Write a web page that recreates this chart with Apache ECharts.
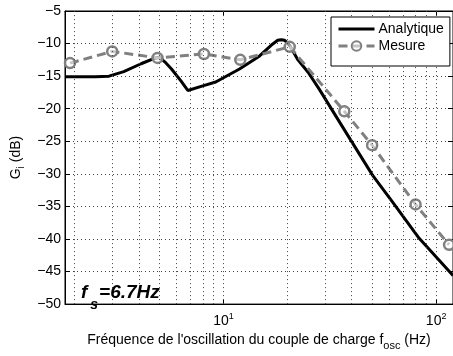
<!DOCTYPE html>
<html>
<head>
<meta charset="utf-8">
<script src="https://cdn.jsdelivr.net/npm/echarts@6/dist/echarts.min.js"></script>
<style>
  html, body { margin: 0; padding: 0; background: #fff; }
  #chart { width: 453px; height: 356px; }
</style>
</head>
<body>
<div id="chart"></div>
<script>
// Analytical gain curve (frequency in Hz, gain in dB)
const anaFreq = [1.8, 2.5, 2.9, 3.4, 4.1, 4.7, 5.0, 5.3, 5.7, 6.3, 6.8, 8.0, 9.2, 11.9, 14.8, 17.0, 18.0, 18.7, 19.4, 20.0, 20.6, 22.3, 25.0, 28.2, 37.6, 50.2, 62.3, 83.2, 120];
const anaGain = [-15.1, -15.1, -15.0, -14.3, -13.1, -12.3, -12.1, -12.8, -13.9, -15.7, -17.2, -16.5, -15.9, -13.9, -11.9, -10.1, -9.5, -9.4, -9.5, -9.9, -10.4, -12.4, -14.4, -17.0, -23.6, -30.2, -34.3, -39.9, -45.6];

// Measured gain points
const measFreq = [1.9, 3.0, 4.9, 8.1, 12, 20.5, 37, 50, 80, 115];
const measGain = [-13.0, -11.2, -12.2, -11.6, -12.5, -10.5, -20.4, -25.6, -34.7, -40.9];

// Axis ranges and grid positions
const xMin = 1.8, xMax = 120;
const yMin = -50, yMax = -5, yStep = 5;
const gridFreqs = [2, 3, 4, 5, 6, 7, 8, 9, 10, 20, 30, 40, 50, 60, 70, 80, 90, 100];
const seriesNames = ['Analytique', 'Mesure'];

const FONT = "'Liberation Sans', Arial, Helvetica, sans-serif";
const pairs = (xs, ys) => xs.map((x, i) => [x, ys[i]]);
const minus = v => (v < 0 ? '\u2212' : '') + Math.abs(v);
const sup = v => {
  const e = Math.round(Math.log10(v));
  return '{b|10}{s|' + e + '}';
};

const chart = echarts.init(document.getElementById('chart'), null, { renderer: 'canvas' });

const dotted = { type: [1, 3], color: '#444', width: 1 };

chart.setOption({
  animation: false,
  backgroundColor: '#fff',
  textStyle: { fontFamily: FONT, color: '#000' },
  grid: { left: 65, top: 11, right: -1, bottom: 49, show: true, borderColor: '#000', borderWidth: 1, backgroundColor: '#fff' },
  legend: {
    data: [
      { name: seriesNames[0], itemStyle: { opacity: 0 }, lineStyle: { width: 3 } },
      { name: seriesNames[1], lineStyle: { width: 3 } }
    ],
    orient: 'vertical',
    left: 331, top: 17,
    itemWidth: 36, itemHeight: 12, itemGap: 3,
    padding: [5, 6, 13, 6],
    backgroundColor: '#fff',
    borderColor: '#000', borderWidth: 1,
    borderRadius: 0,
    textStyle: { fontSize: 14, fontFamily: FONT, color: '#000', padding: [0, 0, 0, -1] },
    z: 10
  },
  xAxis: [{
    type: 'log', logBase: 10, min: xMin, max: xMax,
    position: 'bottom',
    name: '{n|Fréquence de l\'oscillation du couple de charge f}{sub|osc}{n| (Hz)}',
    nameLocation: 'middle', nameGap: 22,
    nameTextStyle: {
      rich: {
        n: { fontSize: 14, fontFamily: FONT, color: '#000', lineHeight: 22 },
        sub: { fontSize: 11, fontFamily: FONT, color: '#000', lineHeight: 10, verticalAlign: 'bottom' }
      }
    },
    axisLine: { show: true, lineStyle: { color: '#000', width: 1 } },
    axisTick: { show: true, inside: true, length: 5, lineStyle: { color: '#000' } },
    axisLabel: {
      margin: 8,
      showMinLabel: false,
      showMaxLabel: false,
      formatter: sup,
      rich: {
        b: { fontSize: 14, fontFamily: FONT, color: '#000', lineHeight: 18 },
        s: { fontSize: 9, fontFamily: FONT, color: '#000', lineHeight: 10, verticalAlign: 'top' }
      }
    },
    splitLine: { show: false },
    minorTick: { show: false }
  }, {
    type: 'log', logBase: 10, min: xMin, max: xMax,
    position: 'top',
    axisLine: { show: true, lineStyle: { color: '#000', width: 1 } },
    axisTick: { show: true, inside: true, length: 5, lineStyle: { color: '#000' } },
    axisLabel: { show: false },
    splitLine: { show: false }
  }],
  yAxis: [{
    type: 'value', min: yMin, max: yMax, interval: yStep,
    position: 'left',
    name: '{g|G}{i|i}{g| (dB)}',
    nameLocation: 'middle', nameRotate: 90, nameGap: 36,
    nameTextStyle: {
      rich: {
        g: { fontSize: 14, fontFamily: FONT, color: '#000', lineHeight: 20 },
        i: { fontSize: 10, fontFamily: FONT, color: '#000', lineHeight: 10, verticalAlign: 'bottom' }
      }
    },
    axisLine: { show: true, lineStyle: { color: '#000', width: 1 } },
    axisTick: { show: true, inside: true, length: 5, lineStyle: { color: '#000' } },
    axisLabel: { margin: 4, fontSize: 14, fontFamily: FONT, color: '#000', formatter: minus },
    splitLine: { show: true, lineStyle: dotted }
  }, {
    type: 'value', min: yMin, max: yMax, interval: yStep,
    position: 'right',
    axisLine: { show: true, lineStyle: { color: '#000', width: 1 } },
    axisTick: { show: true, inside: true, length: 5, lineStyle: { color: '#000' } },
    axisLabel: { show: false },
    splitLine: { show: false }
  }],
  graphic: [{
    type: 'text',
    left: 81, top: 283,
    z: 20,
    style: {
      text: '{f|f}{s|s}{t|=6.7Hz}',
      rich: {
        f: { fontSize: 19, fontWeight: 'bold', fontStyle: 'italic', fontFamily: FONT, fill: '#000', lineHeight: 40 },
        s: { fontSize: 14, fontWeight: 'bold', fontStyle: 'italic', fontFamily: FONT, fill: '#000', lineHeight: 14, verticalAlign: 'bottom', padding: [0, 1, 0, 3] },
        t: { fontSize: 19, fontWeight: 'bold', fontStyle: 'italic', fontFamily: FONT, fill: '#000', lineHeight: 40 }
      }
    }
  }],
  series: [{
    // vertical dotted grid at decade subdivisions
    name: 'grid',
    type: 'line',
    data: [],
    z: 1,
    silent: true,
    markLine: {
      silent: true,
      symbol: ['none', 'none'],
      label: { show: false },
      lineStyle: dotted,
      emphasis: { disabled: true },
      data: gridFreqs.map(f => ({ xAxis: f }))
    }
  }, {
    name: seriesNames[0],
    type: 'line',
    data: pairs(anaFreq, anaGain),
    showSymbol: false,
    lineStyle: { color: '#000', width: 3 },
    itemStyle: { color: '#000' },
    z: 3
  }, {
    name: seriesNames[1],
    type: 'line',
    data: pairs(measFreq, measGain),
    symbol: 'circle',
    symbolSize: 10,
    lineStyle: { color: '#808080', width: 3, type: [9, 5] },
    itemStyle: { color: 'rgba(255,255,255,0.55)', borderColor: '#808080', borderWidth: 2.5 },
    z: 4
  }]
});
</script>
</body>
</html>
